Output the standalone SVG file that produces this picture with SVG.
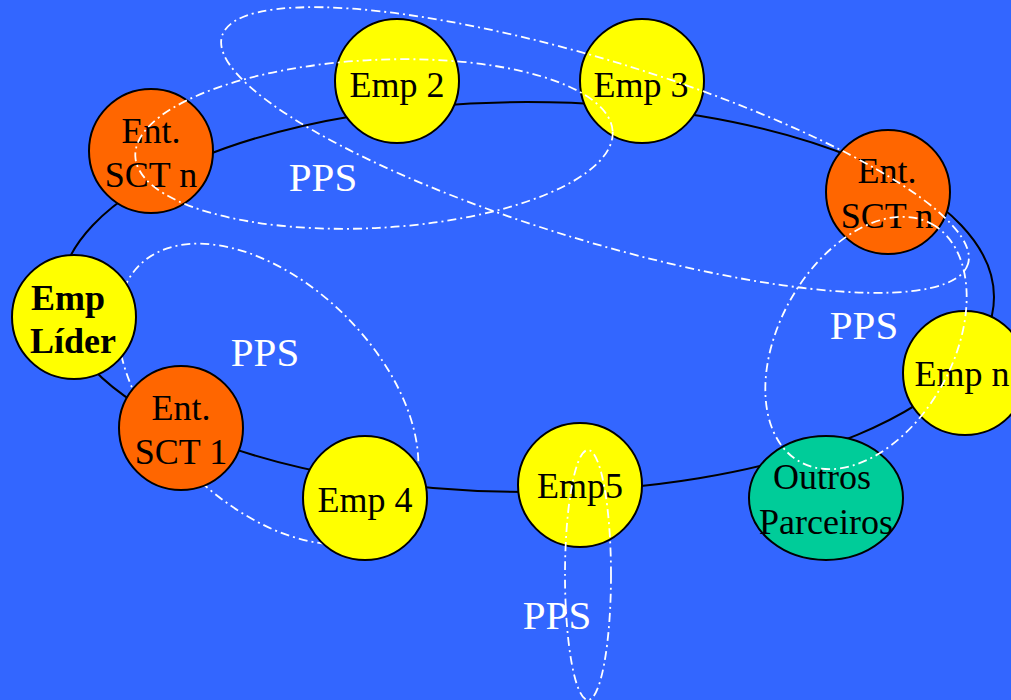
<svg xmlns="http://www.w3.org/2000/svg" width="1011" height="700" viewBox="0 0 1011 700">
  <style>
    .ring { fill: none; stroke: #000; stroke-width: 2; }
    .pps { fill: none; stroke: #fff; stroke-width: 1.8; stroke-dasharray: 9 4 2 4; }
    .node { stroke: #000; stroke-width: 2; }
    .emp { fill: #ffff00; }
    .ent { fill: #ff6600; }
    .out { fill: #00cc99; }
    .lbl { font-family: "Liberation Serif", "Times New Roman", serif; font-size: 36px; fill: #000; text-anchor: middle; }
    .bold { font-weight: bold; text-anchor: start; }
    .ppsl { font-family: "Liberation Serif", "Times New Roman", serif; font-size: 41px; fill: #fff; text-anchor: middle; }
  </style>

  <rect width="1011" height="700" fill="#3366ff"/>

  <!-- network ring and the group that sits beneath the nodes -->
  <g id="connectors">
    <ellipse class="ring" cx="527" cy="297" rx="467" ry="195"/>
    <ellipse class="pps" cx="268" cy="394" rx="182" ry="110" transform="rotate(45 268 394)"/>
  </g>

  <g id="ent-sct-n-left">
    <circle class="node ent" cx="151" cy="151" r="62"/>
    <text class="lbl" x="151" y="143">Ent.</text>
    <text class="lbl" x="151" y="187">SCT n</text>
  </g>
  <g id="emp-2">
    <circle class="node emp" cx="397" cy="81" r="62"/>
    <text class="lbl" x="397" y="97">Emp 2</text>
  </g>
  <g id="emp-3">
    <circle class="node emp" cx="642" cy="81" r="62"/>
    <text class="lbl" x="641" y="97">Emp 3</text>
  </g>
  <g id="ent-sct-n-right">
    <circle class="node ent" cx="888" cy="192" r="62"/>
    <text class="lbl" x="887" y="183">Ent.</text>
    <text class="lbl" x="887" y="228">SCT n</text>
  </g>
  <g id="emp-lider">
    <circle class="node emp" cx="74" cy="317" r="62"/>
    <text class="lbl bold" x="31" y="310">Emp</text>
    <text class="lbl bold" x="30" y="353">Líder</text>
  </g>
  <g id="ent-sct-1">
    <circle class="node ent" cx="181" cy="428" r="62"/>
    <text class="lbl" x="181" y="420">Ent.</text>
    <text class="lbl" x="181" y="464">SCT 1</text>
  </g>
  <g id="emp-4">
    <circle class="node emp" cx="365" cy="498" r="62"/>
    <text class="lbl" x="365" y="512">Emp 4</text>
  </g>
  <g id="emp-5">
    <circle class="node emp" cx="580" cy="485" r="62"/>
    <text class="lbl" x="580" y="498">Emp5</text>
  </g>
  <g id="outros-parceiros">
    <ellipse class="node out" cx="826" cy="498" rx="77" ry="62"/>
    <text class="lbl" x="822" y="489">Outros</text>
    <text class="lbl" x="826" y="534">Parceiros</text>
  </g>
  <g id="emp-n">
    <circle class="node emp" cx="965" cy="373" r="62"/>
    <text class="lbl" x="962" y="386">Emp n</text>
  </g>

  <!-- partnership groups drawn over the nodes -->
  <g id="pps-groups">
    <ellipse class="pps" cx="595" cy="150" rx="390" ry="90" transform="rotate(17 595 150)"/>
    <ellipse class="pps" cx="374" cy="144" rx="239" ry="84" transform="rotate(-3 374 144)"/>
    <ellipse class="pps" cx="866" cy="343" rx="136" ry="87" transform="rotate(-61 866 343)"/>
    <ellipse class="pps" cx="588" cy="575" rx="23" ry="125"/>
  </g>

  <g id="pps-labels">
    <text class="ppsl" x="323" y="191">PPS</text>
    <text class="ppsl" x="265" y="366">PPS</text>
    <text class="ppsl" x="864" y="339">PPS</text>
    <text class="ppsl" x="557" y="629">PPS</text>
  </g>
</svg>
